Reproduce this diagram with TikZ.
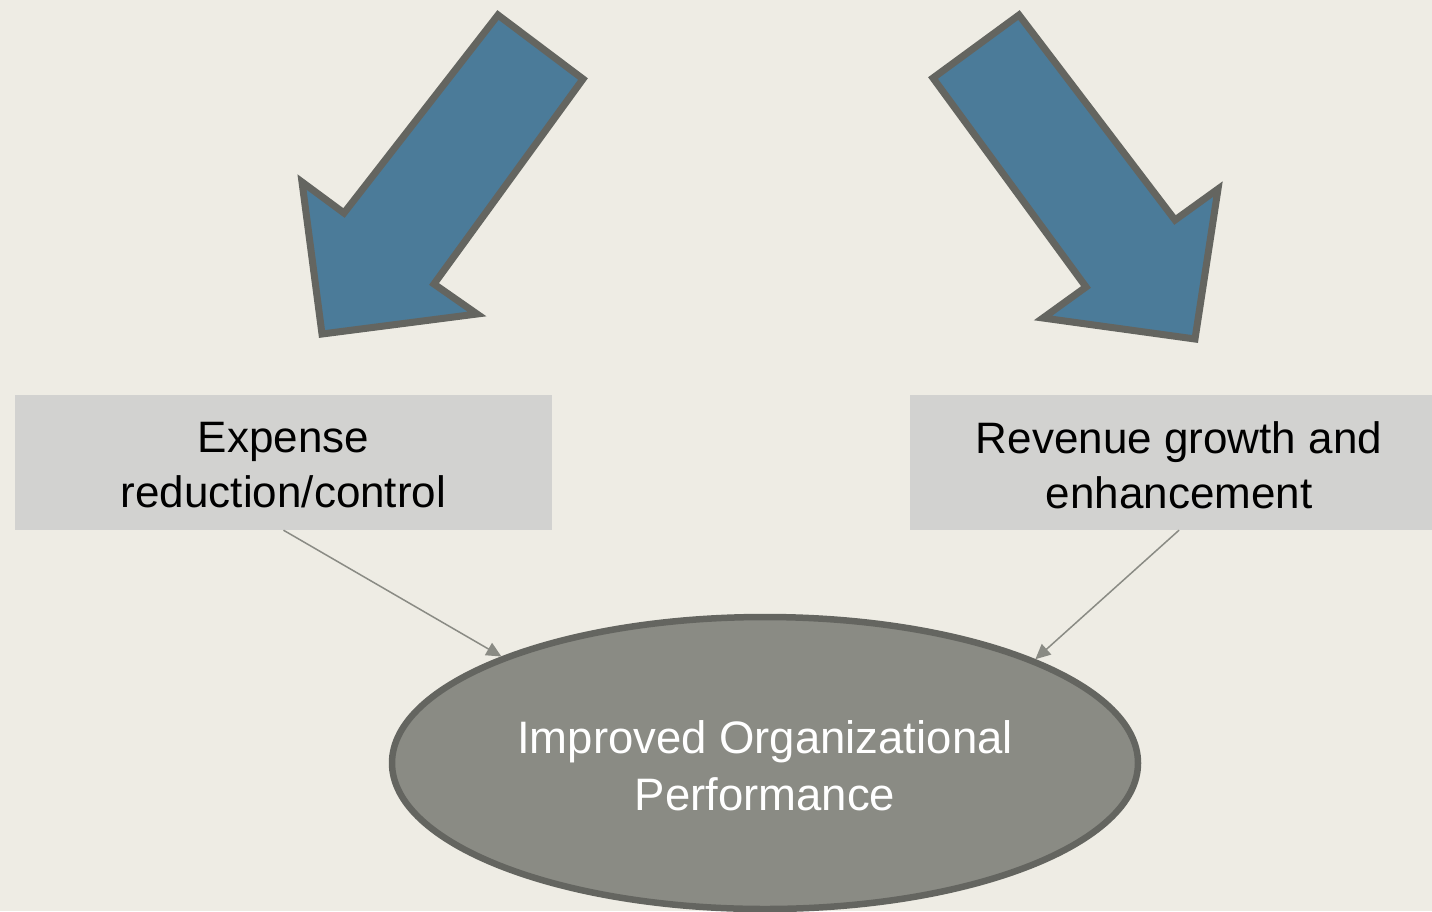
\documentclass[tikz,border=0pt]{standalone}
\usepackage{fontspec}
\setmainfont{Liberation Sans}
\usetikzlibrary{shapes.geometric,arrows.meta}

\definecolor{paper}{RGB}{238,236,228}
\definecolor{bluefill}{RGB}{75,123,153}
\definecolor{edgegrey}{RGB}{100,101,96}
\definecolor{boxgrey}{RGB}{210,210,208}
\definecolor{ovalgrey}{RGB}{138,139,132}

\tikzset{
  bigarrow/.style={fill=bluefill, draw=edgegrey, line width=7pt, line join=miter},
  labelbox/.style={rectangle, fill=boxgrey, inner sep=0pt},
  boxtext/.style={inner sep=0pt, align=center, text=black, yshift=-3pt,
    font=\fontsize{44}{55}\selectfont},
  resultoval/.style={ellipse, fill=ovalgrey, draw=edgegrey, line width=6.5pt, inner sep=0pt},
  ovaltext/.style={inner sep=0pt, align=center, text=white, yshift=-3pt,
    font=\fontsize{45.5}{57}\selectfont},
  feed/.style={draw=ovalgrey, line width=1.5pt, -{Triangle[length=15pt,width=14pt]}}
}

\begin{document}
\begin{tikzpicture}[x=1pt,y=-1pt]
  % canvas
  \useasboundingbox (0,0) rectangle (1432,911);
  \clip (0,0) rectangle (1432,911);
  \fill[paper] (0,0) rectangle (1432,911);

  % block arrows
  \draw[bigarrow] (498,15) -- (583,79) -- (434,284) -- (477,314) -- (322,334)
    -- (302,182) -- (344,213) -- cycle;
  \draw[bigarrow] (1019,15) -- (933,78) -- (1086,287) -- (1043,318) -- (1195,339)
    -- (1218,189) -- (1175,220) -- cycle;

  % labelled boxes
  \node[labelbox, minimum width=537pt, minimum height=135pt,
    label={[boxtext]center:{Expense\\reduction/control}}] (expense) at (283.5,462.5) {};
  \node[labelbox, minimum width=538pt, minimum height=135pt,
    label={[boxtext]center:{Revenue growth and\\enhancement}}] (revenue) at (1179,462.5) {};

  % outcome
  \node[resultoval, minimum width=746pt, minimum height=292pt,
    label={[ovaltext]center:{Improved Organizational\\Performance}}] (perf) at (765,763) {};

  % connectors
  \draw[feed] (expense.south) -- (perf.158.4);
  \draw[feed] (revenue.south) -- (perf.21.4);
\end{tikzpicture}
\end{document}
